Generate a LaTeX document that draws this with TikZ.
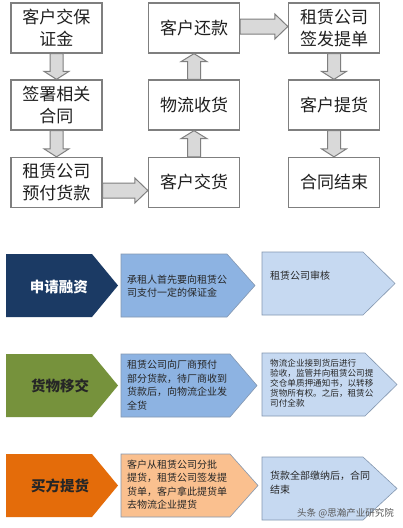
\documentclass[tikz,border=0pt]{standalone}
\usepackage{fontspec}
\setmainfont{Noto Sans CJK SC}
\usetikzlibrary{calc}
\definecolor{boxline}{HTML}{7F7F7F}
\definecolor{arrfill}{HTML}{D9D9D9}
\definecolor{navy}{HTML}{1B3A64}
\definecolor{olive}{HTML}{76923C}
\definecolor{orng}{HTML}{E46C0A}
\definecolor{peach}{HTML}{FAC08F}
\definecolor{midblue}{HTML}{8DB3E2}
\definecolor{lightblue}{HTML}{C6D9F1}
\definecolor{chevline}{HTML}{8497B0}
\tikzset{
  flowbox/.style={draw=boxline, line width=1.3pt, fill=white, minimum width=91, minimum height=50,
    inner sep=0, align=center, font=\fontsize{17}{22}\selectfont, text=black!88},
  blk/.style={draw=boxline, fill=arrfill, line width=1pt, line join=miter},
  chev/.style={draw=chevline, line width=0.6pt},
  headtxt/.style={font=\fontsize{14.5}{17}\selectfont\bfseries, inner sep=0},
  bodytxt/.style={font=\fontsize{10}{13.5}\selectfont, align=left, inner sep=0, text=black!85},
  smalltxt/.style={font=\fontsize{8.6}{10}\selectfont, align=left, inner sep=0, text=black!85},
}
\newcommand\dnarrow[2]{\draw[blk] let \p1=(#1.south), \p2=(#2.north) in
  (\x1-6.5pt,\y1) -- (\x1-6.5pt,\y2+8pt) -- (\x1-12.5pt,\y2+8pt) -- (\x1,\y2) --
  (\x1+12.5pt,\y2+8pt) -- (\x1+6.5pt,\y2+8pt) -- (\x1+6.5pt,\y1) -- cycle;}
\newcommand\uparrowblk[2]{\draw[blk] let \p1=(#1.north), \p2=(#2.south) in
  (\x1-6.5pt,\y1) -- (\x1-6.5pt,\y2-8pt) -- (\x1-13pt,\y2-8pt) -- (\x1,\y2) --
  (\x1+13pt,\y2-8pt) -- (\x1+6.5pt,\y2-8pt) -- (\x1+6.5pt,\y1) -- cycle;}
\newcommand\rtarrow[3]{\draw[blk] let \p1=($(#1.east)+(0,#3)$), \p2=($(#2.west)+(0,#3)$) in
  (\x1,\y1+7.5pt) -- (\x2-13pt,\y1+7.5pt) -- (\x2-13pt,\y1+12.5pt) -- (\x2,\y1) --
  (\x2-13pt,\y1-12.5pt) -- (\x2-13pt,\y1-7.5pt) -- (\x1,\y1-7.5pt) -- cycle;}
\begin{document}
\begin{tikzpicture}[x=1pt,y=-1pt]
\useasboundingbox[fill=white] (0,0) rectangle (403,528);
% ---- top flow chart ----
\node[flowbox] (a1) at (56.5,28) {客户交保\\证金};
\node[flowbox] (a2) at (56.5,105) {签署相关\\合同};
\node[flowbox] (a3) at (56.5,182.5) {租赁公司\\预付货款};
\node[flowbox] (b1) at (194,28) {客户还款};
\node[flowbox] (b2) at (194,105) {物流收货};
\node[flowbox] (b3) at (194,182.5) {客户交货};
\node[flowbox] (c1) at (334,28) {租赁公司\\签发提单};
\node[flowbox] (c2) at (334,105) {客户提货};
\node[flowbox] (c3) at (334,182.5) {合同结束};
\dnarrow{a1}{a2}
\dnarrow{a2}{a3}
\rtarrow{a3}{b3}{8}
\uparrowblk{b3}{b2}
\uparrowblk{b2}{b1}
\rtarrow{b1}{c1}{-1.5}
\dnarrow{c1}{c2}
\dnarrow{c2}{c3}
% ---- row 1 ----
\fill[navy] (6,254) -- (92,254) -- (118,285.5) -- (92,317) -- (6,317) -- cycle;
\draw[chev, fill=midblue] (121,254) -- (227,254) -- (255,285.5) -- (227,317) -- (121,317) -- cycle;
\draw[chev, fill=lightblue] (262,252) -- (363,252) -- (395,283.5) -- (363,315) -- (262,315) -- cycle;
\node[headtxt, text=white] (h1) at (59,287) {申请融资};
\node[bodytxt, anchor=west] (m1) at (127,286) {承租人首先要向租赁公\\司支付一定的保证金};
\node[bodytxt, anchor=west] (r1) at (270,276) {租赁公司审核};
% ---- row 2 ----
\fill[olive] (6,354) -- (92,354) -- (118,385.5) -- (92,417) -- (6,417) -- cycle;
\draw[chev, fill=midblue] (121,354) -- (230,354) -- (257,385.5) -- (230,417) -- (121,417) -- cycle;
\draw[chev, fill=lightblue] (262,353) -- (365,353) -- (397,384.5) -- (365,416) -- (262,416) -- cycle;
\node[headtxt, text=black!85] (h2) at (60,386) {货物移交};
\node[bodytxt, anchor=west] (m2) at (127,385) {租赁公司向厂商预付\\部分货款，待厂商收到\\货款后，向物流企业发\\全货};
\node[smalltxt, anchor=west] (r2) at (270,383) {物流企业接到货后进行\\验收，监管并向租赁公司提\\交仓单质押通知书，以转移\\货物所有权。之后，租赁公\\司付全款};
% ---- row 3 ----
\fill[orng] (6,454) -- (92,454) -- (118,485.5) -- (92,517) -- (6,517) -- cycle;
\draw[chev, fill=peach] (121,454) -- (230,454) -- (258,485.5) -- (230,517) -- (121,517) -- cycle;
\draw[chev, fill=lightblue] (262,457) -- (363,457) -- (397,488.5) -- (363,520) -- (262,520) -- cycle;
\node[headtxt, text=black!85] (h3) at (60,486) {买方提货};
\node[bodytxt, anchor=west] (m3) at (127,484.5) {客户从租赁公司分批\\提货，租赁公司签发提\\货单，客户拿此提货单\\去物流企业提货};
\node[bodytxt, anchor=west] (r3) at (270,482.5) {货款全部缴纳后，合同\\结束};
\node[font=\fontsize{9.5}{11}\selectfont, text=black!65, anchor=east, inner sep=0] (wm) at (394,513) {头条 @思瀚产业研究院};
\end{tikzpicture}
\end{document}
